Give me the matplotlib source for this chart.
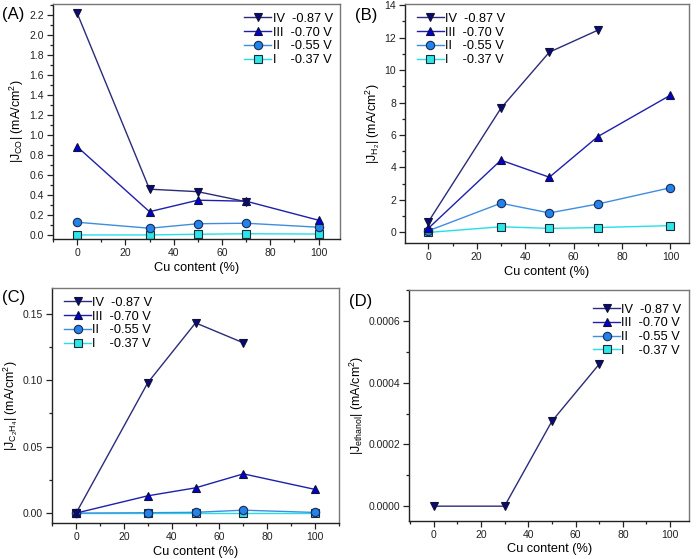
import matplotlib
matplotlib.use("Agg")
import matplotlib.pyplot as plt
from matplotlib.ticker import MultipleLocator, FormatStrFormatter

plt.rcParams['font.family'] = ['Liberation Sans', 'DejaVu Sans']
plt.rcParams['mathtext.fontset'] = 'custom'
plt.rcParams['mathtext.rm'] = 'Liberation Sans'
plt.rcParams['mathtext.it'] = 'Liberation Sans:italic'

# ---------------- data ----------------
cu_content = [0, 30, 50, 70, 100]
cu_content_iv = [0, 30, 50, 70]

series_labels = ["IV  -0.87 V", "III  -0.70 V", "II   -0.55 V", "I    -0.37 V"]

# (A) CO
co_IV = [2.22, 0.46, 0.435, 0.335]
co_III = [0.885, 0.235, 0.35, 0.34, 0.15]
co_II = [0.13, 0.07, 0.115, 0.12, 0.08]
co_I = [0.003, 0.003, 0.01, 0.015, 0.012]

# (B) H2
h2_IV = [0.65, 7.65, 11.1, 12.45]
h2_III = [0.25, 4.45, 3.4, 5.9, 8.45]
h2_II = [0.1, 1.8, 1.2, 1.75, 2.75]
h2_I = [0.0, 0.35, 0.25, 0.3, 0.42]

# (C) C2H4
c2h4_IV = [0.0, 0.098, 0.143, 0.128]
c2h4_III = [0.0, 0.013, 0.019, 0.0295, 0.0178]
c2h4_II = [0.0, 0.0003, 0.0006, 0.0022, 0.0005]
c2h4_I = [0.0, 0.0, 0.0, 0.0, 0.0]

# (D) ethanol
eth_IV = [0.0, 0.0, 0.000275, 0.00046]

# ---------------- styles ----------------
styles = [
    dict(marker='v', color='#2b2b7a', mfc='#0a0a78', mec='#111133'),
    dict(marker='^', color='#1f1fae', mfc='#0000d8', mec='#111133'),
    dict(marker='o', color='#3f8ede', mfc='#2284ea', mec='#1a2a55'),
    dict(marker='s', color='#22e0e8', mfc='#2ee6e6', mec='#1a2a3a'),
]

fig = plt.figure(figsize=(6.96, 5.59), dpi=100)

def make_ax(rect, xlim, ylim, ymaj, ymin, yfmt, ylabel, letter, letter_xy,
            data, legend_loc, legend_anchor):
    ax = fig.add_axes(rect)
    xs = [cu_content_iv, cu_content, cu_content, cu_content]
    for i, (x, y) in enumerate(zip(xs, data)):
        st = styles[i]
        if y is None:
            ax.plot([], [], marker=st['marker'], color=st['color'], mfc=st['mfc'],
                    mec=st['mec'], mew=0.8, ms=6, lw=1.0, label=series_labels[i])
        else:
            ax.plot(x, y, marker=st['marker'], color=st['color'], mfc=st['mfc'],
                    mec=st['mec'], mew=0.8, ms=6, lw=1.0, label=series_labels[i],
                    zorder=5 - i)
    ax.set_xlim(*xlim)
    ax.set_ylim(*ylim)
    ax.xaxis.set_major_locator(MultipleLocator(20))
    ax.xaxis.set_minor_locator(MultipleLocator(10))
    ax.yaxis.set_major_locator(MultipleLocator(ymaj))
    ax.yaxis.set_minor_locator(MultipleLocator(ymin))
    ax.yaxis.set_major_formatter(FormatStrFormatter(yfmt))
    ax.tick_params(which='both', direction='out', labelsize=7.5, width=0.9,
                   color='#222222', labelcolor='#222222', top=False, right=False, pad=2.5)
    ax.tick_params(which='major', length=4)
    ax.tick_params(which='minor', length=2.5)
    for s in ['left', 'bottom']:
        ax.spines[s].set_color('#222222')
        ax.spines[s].set_linewidth(1.0)
    for s in ['top', 'right']:
        ax.spines[s].set_color('#777777')
        ax.spines[s].set_linewidth(1.0)
    ax.set_xlabel('Cu content (%)', fontsize=9.2, labelpad=2.5)
    ax.set_ylabel(ylabel, fontsize=9, labelpad=2)
    ax.legend(loc=legend_loc, bbox_to_anchor=legend_anchor, frameon=False,
              fontsize=9.2, handlelength=2.1, handletextpad=0.1,
              labelspacing=0.14, borderaxespad=0.2)
    fig.text(letter_xy[0], letter_xy[1], letter, fontsize=12, ha='left', va='center')
    return ax

make_ax([0.076, 0.572, 0.413, 0.421], (-10, 109), (-0.04, 2.31), 0.2, 0.1, '%.1f',
        r'|J$_{\mathrm{CO}}$| (mA/cm$^{2}$)', '(A)', (0.003, 0.974),
        [co_IV, co_III, co_II, co_I], 'upper right', (1.0, 0.995))

make_ax([0.582, 0.565, 0.408, 0.428], (-9.6, 107.7), (-0.66, 14.07), 2, 1, '%d',
        r'|J$_{\mathrm{H_2}}$| (mA/cm$^{2}$)', '(B)', (0.51, 0.972),
        [h2_IV, h2_III, h2_II, h2_I], 'upper left', (0.015, 0.995))

make_ax([0.075, 0.064, 0.412, 0.421], (-10, 110), (-0.0076, 0.1693), 0.05, 0.025, '%.2f',
        r'|J$_{\mathrm{C_2H_4}}$| (mA/cm$^{2}$)', '(C)', (0.003, 0.468),
        [c2h4_IV, c2h4_III, c2h4_II, c2h4_I], 'upper left', (0.015, 0.995))

make_ax([0.588, 0.068, 0.402, 0.413], (-10.3, 108), (-0.000048, 0.0007), 0.0002, 0.0001, '%.4f',
        r'|J$_{\mathrm{ethanol}}$| (mA/cm$^{2}$)', '(D)', (0.502, 0.46),
        [eth_IV, None, None, None], 'upper right', (1.0, 0.975))

fig.savefig('out.png', dpi=100)
